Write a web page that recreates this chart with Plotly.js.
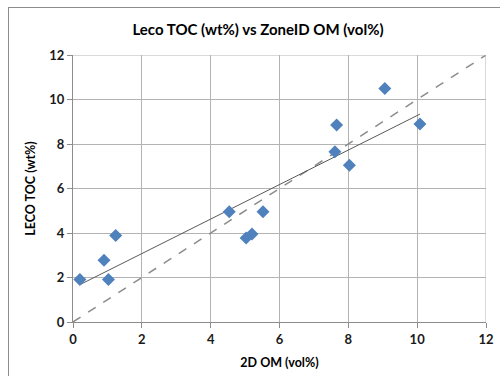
<!DOCTYPE html>
<html>
<head>
<meta charset="utf-8">
<script src="https://cdn.plot.ly/plotly-3.0.1.min.js"></script>
<style>
html,body{margin:0;padding:0;overflow:hidden;background:#fff;}
#wrap{position:relative;width:500px;height:376px;}
#frame{position:absolute;left:8px;top:7px;width:600px;height:500px;border:1px solid #8c8c8c;pointer-events:none;z-index:5;}
#chart{position:absolute;left:0;top:0;width:500px;height:376px;}
</style>
</head>
<body>
<div id="wrap"><div id="chart"></div><div id="frame"></div></div>
<script>
// 2D OM (vol%) values
const omVol = [0.2, 0.9, 1.03, 1.24, 4.54, 5.03, 5.2, 5.52, 7.61, 7.66, 8.03, 9.06, 10.08];
// LECO TOC (wt%) values
const tocWt = [1.91, 2.78, 1.91, 3.89, 4.95, 3.78, 3.95, 4.95, 7.65, 8.85, 7.05, 10.5, 8.9];
const oneToOne = [0, 12];
const tickVals = [0, 2, 4, 6, 8, 10, 12];

// linear trendline from the data (least squares)
const n = omVol.length;
const mx = omVol.reduce((a,b)=>a+b,0)/n;
const my = tocWt.reduce((a,b)=>a+b,0)/n;
let sxy=0, sxx=0;
for(let i=0;i<n;i++){sxy+=(omVol[i]-mx)*(tocWt[i]-my);sxx+=(omVol[i]-mx)**2;}
const slope = sxy/sxx, intercept = my - slope*mx;
const xmin = Math.min(...omVol), xmax = Math.max(...omVol);
const trendX = [xmin, xmax];
const trendY = trendX.map(x=>intercept+slope*x);

const font = "Lato, 'Open Sans', sans-serif";
const data = [
  {x: oneToOne, y: oneToOne, mode:'lines', line:{color:'#8c8c8c', width:1.5, dash:'dash'}, hoverinfo:'skip'},
  {x: trendX, y: trendY, mode:'lines', line:{color:'#595959', width:1}, hoverinfo:'skip'},
  {x: omVol, y: tocWt, mode:'markers', marker:{symbol:'diamond', size:10, color:'#4f81bd'}}
];
const axisCommon = {
  range:[0,12], tickvals:tickVals, ticktext:tickVals.map(String),
  showgrid:true, gridcolor:'#b3b3b3', gridwidth:1,
  showline:true, linecolor:'#8c8c8c', linewidth:1,
  ticks:'outside', ticklen:5, tickcolor:'#8c8c8c',
  zeroline:false, mirror:false,
  tickfont:{family:font, size:13, color:'#1a1a1a', weight:'bold'}
};
const layout = {
  width:500, height:376,
  margin:{l:73, r:14, t:55, b:54},
  paper_bgcolor:'#fff', plot_bgcolor:'#fff',
  showlegend:false,
  title:{text:'<b>Leco TOC (wt%) vs ZoneID OM (vol%)</b>', x:0.516, xanchor:'center', y:0.92, yanchor:'middle',
    font:{family:font, size:15, color:'#000'}},
  xaxis:Object.assign({}, axisCommon, {
    title:{text:'<b>2D OM (vol%)</b>', font:{family:font, size:12.5, color:'#000'}, standoff:12}
  }),
  yaxis:Object.assign({}, axisCommon, {
    title:{text:'<b>LECO TOC (wt%)</b>', font:{family:font, size:12.5, color:'#000'}, standoff:10}
  }),
  shapes:[
    {type:'line', xref:'x', yref:'y', x0:12, x1:12, y0:0, y1:12, line:{color:'#b3b3b3', width:1}},
    {type:'line', xref:'x', yref:'y', x0:0, x1:12, y0:12, y1:12, line:{color:'#b3b3b3', width:1}}
  ]
};
Plotly.newPlot('chart', data, layout, {displayModeBar:false, staticPlot:true});
</script>
</body>
</html>
